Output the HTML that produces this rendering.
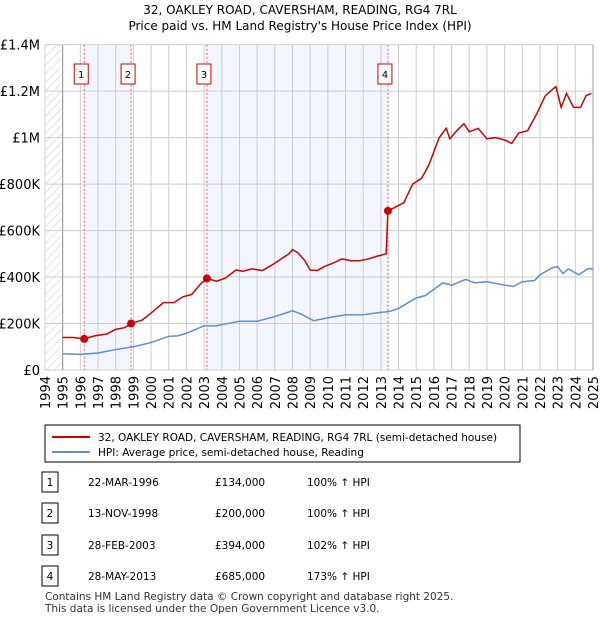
<!DOCTYPE html>
<html><head><meta charset="utf-8"><style>
body{margin:0;background:#fff;font-family:"Liberation Sans","DejaVu Sans",sans-serif;}
svg text{font-family:"DejaVu Sans","Liberation Sans",sans-serif;}
</style></head><body>
<svg id="c" width="600" height="620" xmlns="http://www.w3.org/2000/svg">
<defs><pattern id="h" width="6" height="6" patternUnits="userSpaceOnUse" patternTransform="rotate(45)"><line x1="0" y1="0" x2="0" y2="6" stroke="#ccc" stroke-width="1"/></pattern></defs>
<text x="300" y="14" text-anchor="middle" font-size="12">32, OAKLEY ROAD, CAVERSHAM, READING, RG4 7RL</text>
<text x="300" y="30" text-anchor="middle" font-size="12">Price paid vs. HM Land Registry's House Price Index (HPI)</text>
<g id="plot"></g>
<rect x="45" y="425" width="475" height="37" fill="#fff" stroke="#000" stroke-width="1"/>
<line x1="52" y1="437" x2="90" y2="437" stroke="#cc0000" stroke-width="2"/>
<text x="98" y="441" font-size="10.5">32, OAKLEY ROAD, CAVERSHAM, READING, RG4 7RL (semi-detached house)</text>
<line x1="52" y1="452" x2="90" y2="452" stroke="#5b8fd6" stroke-width="2"/>
<text x="98" y="456" font-size="10.5">HPI: Average price, semi-detached house, Reading</text>
<g id="tbl"></g>
<text x="45" y="600" font-size="10.5" fill="#333">Contains HM Land Registry data © Crown copyright and database right 2025.</text>
<text x="45" y="612" font-size="10.5" fill="#333">This data is licensed under the Open Government Licence v3.0.</text>
</svg>
<script>
const redYears=[1995,1995.6,1996.22,1996.8,1997.5,1998,1998.5,1998.87,1999.5,2000,2000.7,2001.3,2001.8,2002.3,2002.8,2003.16,2003.7,2004.2,2004.8,2005.2,2005.7,2006.3,2006.8,2007.3,2007.8,2008.0,2008.3,2008.7,2009.0,2009.4,2009.8,2010.3,2010.8,2011.3,2011.8,2012.3,2012.8,2013.3,2013.4,2013.8,2014.3,2014.8,2015.3,2015.7,2016.3,2016.7,2016.9,2017.3,2017.7,2018.0,2018.5,2019.0,2019.5,2020.0,2020.4,2020.8,2021.3,2021.8,2022.3,2022.6,2022.9,2023.2,2023.5,2023.9,2024.3,2024.6,2024.9];
const redValues=[140,140,134,147,155,175,182,200,215,245,290,290,315,325,370,394,382,395,430,425,435,428,450,475,500,518,505,470,430,428,445,460,478,470,470,478,490,500,685,700,720,800,825,880,1000,1040,995,1030,1060,1025,1040,995,1000,990,975,1020,1030,1100,1180,1200,1220,1130,1190,1130,1130,1180,1190];
const hpiYears=[1995,1996,1997,1998,1999,2000,2001,2001.5,2002,2003,2003.7,2004,2005,2006,2007,2008,2008.5,2009.2,2010,2011,2012,2013,2013.5,2014,2015,2015.5,2016.5,2017,2017.8,2018.3,2019,2020,2020.5,2021,2021.7,2022,2022.7,2023,2023.3,2023.6,2024.2,2024.7,2025];
const hpiValues=[70,67,73,88,100,118,145,147,158,190,190,195,210,210,230,255,240,212,225,237,238,248,252,265,310,320,375,365,390,375,380,365,360,380,385,410,440,445,415,435,410,435,435];
const saleYears=[1996.22,1998.87,2003.16,2013.4];
const saleValues=[134,200,394,685];
const saleLabels=["1","2","3","4"];
const saleDates=["22-MAR-1996","13-NOV-1998","28-FEB-2003","28-MAY-2013"];
const salePrices=["£134,000","£200,000","£394,000","£685,000"];
const saleHpi=["100% ↑ HPI","100% ↑ HPI","102% ↑ HPI","173% ↑ HPI"];
const yTicks=[0,200,400,600,800,1000,1200,1400];
const yTickLabels=["£0","£200K","£400K","£600K","£800K","£1M","£1.2M","£1.4M"];
const xTicks=[];for(let y=1994;y<=2025;y++)xTicks.push(y);

const NS="http://www.w3.org/2000/svg";
const X0=45,X1=593,Y0=370,Y1=44.7;
const xs=v=>X0+(v-1994)/(2025-1994)*(X1-X0);
const ys=v=>Y0-v/1400*(Y0-Y1);
const plot=document.getElementById('plot');
function mk(t,a,p){const e=document.createElementNS(NS,t);for(const k in a)e.setAttribute(k,a[k]);(p||plot).appendChild(e);return e;}
for(let i=0;i<saleYears.length;i+=2){
 const x2=saleYears[i+1];
 const r=mk('rect',{x:xs(saleYears[i]),y:Y1,width:xs(x2)-xs(saleYears[i]),height:Y0-Y1,fill:'#f3f6fe'});
 
 
}
const hl=mk('rect',{x:X0,y:Y1,width:xs(1995)-X0,height:Y0-Y1,fill:'url(#h)'});


yTicks.forEach((v,i)=>{
 const l=mk('line',{x1:X0,x2:X1,y1:ys(v),y2:ys(v),stroke:'#ccc'});
 
 
 const t=mk('text',{x:X0-5,y:ys(v)+5,'text-anchor':'end','font-size':13});
 t.textContent=yTickLabels[i];
 
 
});
xTicks.forEach(v=>{
 const l=mk('line',{x1:xs(v),x2:xs(v),y1:Y1,y2:Y0,stroke:'#ccc'});
 
 
 const t=mk('text',{x:0,y:0,'font-size':13,'text-anchor':'end',transform:`translate(${xs(v)+5},${Y0+6}) rotate(-90)`});
 t.textContent=v;
 
 
});
const ax=mk('line',{x1:xs(1995),x2:xs(1995),y1:Y1,y2:Y0,stroke:'#999'});


const ax2=mk('line',{x1:X1,x2:X1,y1:Y1,y2:Y0,stroke:'#999'});


saleYears.forEach((v,i)=>{
 const l=mk('line',{x1:xs(v),x2:xs(v),y1:Y1,y2:Y0,stroke:'#e06060','stroke-dasharray':'2,2'});
 
 
 const b=mk('rect',{x:xs(v)-10,y:64,width:14,height:20,fill:'#fff',stroke:'#cc0000'});
 
 
 const t=mk('text',{x:xs(v)-3,y:78,'text-anchor':'middle','font-size':10});
 t.textContent=saleLabels[i];
 
 
});
const hp=mk('polyline',{points:hpiYears.map((y,i)=>xs(y)+','+ys(hpiValues[i])).join(' '),fill:'none',stroke:'#5b8fd6','stroke-width':1.5});


const rp=mk('polyline',{points:redYears.map((y,i)=>xs(y)+','+ys(redValues[i])).join(' '),fill:'none',stroke:'#cc0000','stroke-width':1.5});


saleYears.forEach((v,i)=>{
 const d=mk('circle',{cx:xs(v),cy:ys(saleValues[i]),r:4,fill:'#cc0000'});
 
 
});
const tbl=document.getElementById('tbl');
const rowY=[482,513,545,576];
saleLabels.forEach((s,i)=>{
 const y=rowY[i];
 const b=mk('rect',{x:42,y:y-10,width:16,height:20,fill:'#fff',stroke:'#000'},tbl);
 
 
 const cells=[[50,s,'middle'],[88,saleDates[i],'start'],[215,salePrices[i],'start'],[307,saleHpi[i],'start']];
 cells.forEach(c=>{
  const t=mk('text',{x:c[0],y:y+4,'font-size':10.5,'text-anchor':c[2]},tbl);
  t.textContent=c[1];
  
  
 });
});
</script>
</body></html>
